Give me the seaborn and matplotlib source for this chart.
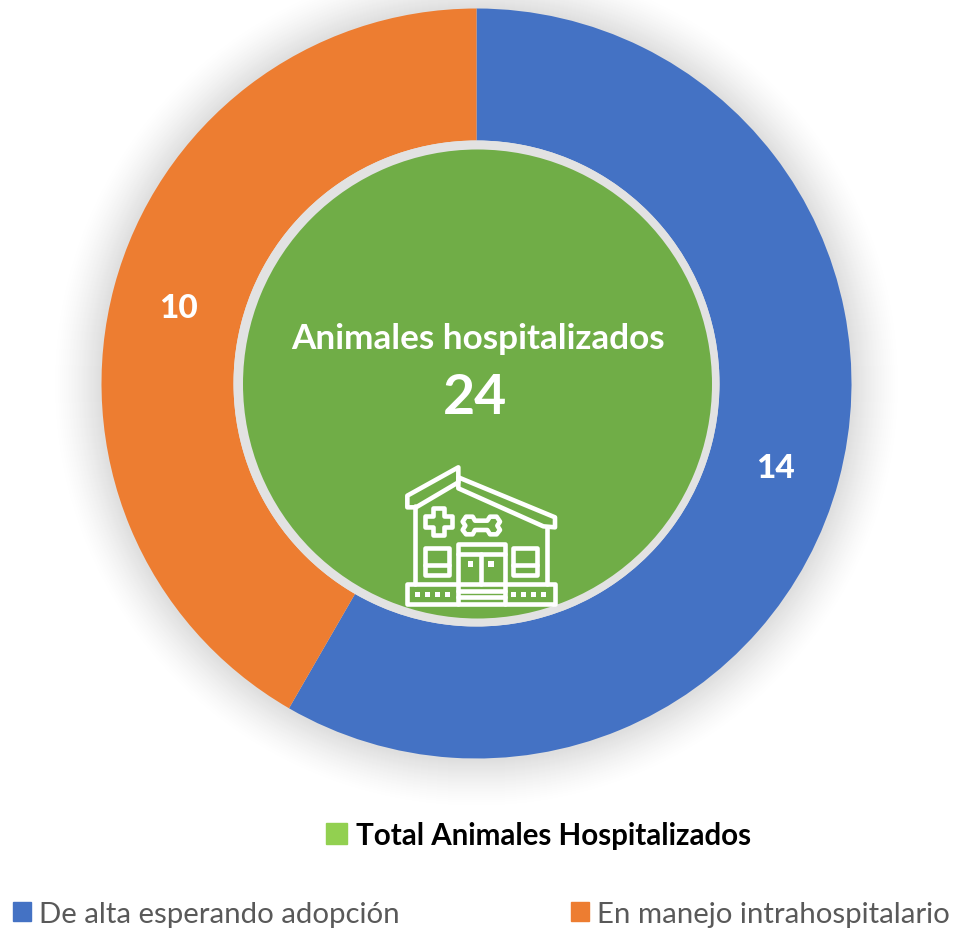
import matplotlib
matplotlib.use("Agg")
import matplotlib.pyplot as plt
import seaborn as sns
from matplotlib.patches import Circle, Polygon, Rectangle, Patch

categories = ["De alta esperando adopción", "En manejo intrahospitalario"]
values = [14, 10]
total_label = "Total Animales Hospitalizados"
center_title = "Animales hospitalizados"
total_value = 24
colors = sns.color_palette(["#4472C4", "#ED7D31"])
green = "#70AD47"
legend_green = "#92D050"

sns.set_theme(style="white")
plt.rcParams["font.family"] = ["Lato", "DejaVu Sans"]

W, H = 959, 929
fig = plt.figure(figsize=(W / 100, H / 100), dpi=100, facecolor="white")
ax = fig.add_axes([0, 0, 1, 1])
ax.set_axis_off()

def Y(y):
    return H - y

cx, cy = 476.5, Y(384.5)

# soft drop shadow: opaque rings fading from pale grey to white
n = 48
for i in range(n):
    t = i / (n - 1)
    r = 424 - i
    shade = 1 - (1 - 0.875) * t ** 1.4
    ax.add_patch(Circle((cx, Y(385)), r, fc=(shade, shade, shade), ec="none", zorder=0))

# outer ring
wedges, _, autotexts = ax.pie(
    values, colors=colors, startangle=90, counterclock=False,
    center=(cx, cy), radius=375, frame=True,
    wedgeprops=dict(width=132, linewidth=0),
    autopct=lambda p: f"{p * sum(values) / 100:.0f}", pctdistance=0.824,
    textprops=dict(color="white", fontweight=900, fontsize=24),
)
for w in wedges:
    w.set_zorder(3)
for t in autotexts:
    t.set_zorder(6)
    t.set_y(t.get_position()[1] - 4)

# inner disc with pale rim
ax.pie([total_value], colors=["#E2E2E2"], center=(cx, cy), radius=243, frame=True,
       wedgeprops=dict(linewidth=0, zorder=3))
ax.pie([total_value], colors=[green], center=(477.5, Y(385)), radius=234.5, frame=True,
       wedgeprops=dict(linewidth=0, zorder=4))

ax.set_xlim(0, W)
ax.set_ylim(0, H)
ax.set_aspect("equal")
ax.set_axis_off()

ax.text(478, Y(339), center_title, color="white", fontweight="bold", fontsize=25.3,
        ha="center", va="center", zorder=6)
ax.text(475, Y(398), str(total_value), color="white", fontweight="bold", fontsize=40,
        ha="center", va="center", zorder=6)

# icon (coordinates relative to its crop, 1/3 px units)
def zx(x):
    return 380 + x / 3
def zy(y):
    return Y(450 + y / 3)
def poly(pts, closed=True, fill="none"):
    ax.add_patch(Polygon([(zx(a), zy(b)) for a, b in pts], closed=closed, fc=fill, ec="white",
                         lw=3.3, joinstyle="round", capstyle="round", zorder=7))

poly([(235, 55), (82, 140), (82, 175), (108, 175), (235, 100)])
poly([(235, 85), (525, 205), (525, 235), (490, 232), (235, 118)])
poly([(105, 172), (105, 405)], closed=False)
poly([(501, 235), (501, 405)], closed=False)
poly([(82, 405), (525, 405), (525, 466), (82, 466)])
poly([(235, 405), (235, 466)], closed=False)
poly([(374, 405), (374, 466)], closed=False)
poly([(235, 425), (374, 425)], closed=False)
poly([(235, 445), (374, 445)], closed=False)
poly([(235, 405), (235, 285), (374, 285), (374, 405)], closed=False)
poly([(235, 316), (374, 316)], closed=False)
poly([(303, 316), (303, 405)], closed=False)
poly([(135, 298), (208, 298), (208, 378), (135, 378)])
poly([(135, 348), (208, 348)], closed=False)
poly([(400, 298), (472, 298), (472, 378), (400, 378)])
poly([(400, 348), (472, 348)], closed=False)
poly([(158, 177), (192, 177), (192, 200), (216, 200), (216, 234), (192, 234), (192, 258),
      (158, 258), (158, 234), (134, 234), (134, 200), (158, 200)])
poly([(285, 215), (322, 215), (330, 203), (350, 203), (360, 218), (352, 230), (360, 243),
      (350, 256), (330, 256), (322, 243), (285, 243), (278, 256), (258, 256), (248, 243),
      (256, 230), (248, 218), (258, 203), (278, 203)])
for sx, sy in [(113, 437), (143, 437), (173, 437), (203, 437), (400, 437), (430, 437), (460, 437),
               (490, 437), (272, 345), (333, 345)]:
    ax.add_patch(Rectangle((zx(sx - 8), zy(sy + 8)), 16 / 3, 16 / 3, fc="white", ec="none", zorder=7))

# legends
common = dict(borderpad=0, borderaxespad=0, frameon=False)
leg1 = ax.legend(handles=[Patch(color=legend_green, label=total_label)], loc="center left",
                 bbox_to_anchor=(326, Y(836)), bbox_transform=ax.transData,
                 handlelength=0.72, handleheight=0.72, handletextpad=0.28,
                 prop=dict(size=21.25, weight="bold"), labelcolor="black", **common)
ax.add_artist(leg1)
ax.legend(handles=[Patch(color=colors[i], label=categories[i]) for i in range(2)],
          loc="center left", bbox_to_anchor=(13, Y(915)), bbox_transform=ax.transData,
          ncol=2, handlelength=0.62, handleheight=0.62, handletextpad=0.27, columnspacing=5.8,
          prop=dict(size=21.2), labelcolor="#595959", **common)

fig.savefig("out.png", dpi=100)
